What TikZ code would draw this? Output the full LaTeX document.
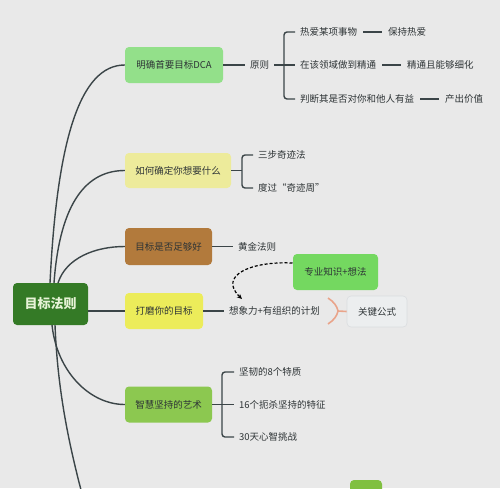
\documentclass[tikz,border=0pt]{standalone}
\usepackage{fontspec}
\setmainfont{Noto Sans CJK SC}
\usetikzlibrary{arrows.meta}
\definecolor{bg}{HTML}{E9E9E9}
\definecolor{lc}{HTML}{3B4548}
\definecolor{txt}{HTML}{2E3436}
\definecolor{rootc}{HTML}{347A26}
\definecolor{roott}{HTML}{E6F3D6}
\definecolor{c1}{HTML}{93E08A}
\definecolor{c2}{HTML}{EDEB9B}
\definecolor{c3}{HTML}{B27A3C}
\definecolor{c4}{HTML}{ECEC5A}
\definecolor{c5}{HTML}{8CC850}
\definecolor{c6}{HTML}{74D860}
\definecolor{c7}{HTML}{ECEEEF}
\definecolor{c7b}{HTML}{DADDDF}
\definecolor{brc}{HTML}{E9A48A}
\definecolor{c8}{HTML}{80C040}
\begin{document}
\begin{tikzpicture}[x=1pt,y=-1pt,
  box/.style={rounded corners=4pt, inner sep=0pt, align=center,
    font=\fontsize{9.5}{11}\selectfont, text=txt},
  lbl/.style={inner xsep=5pt, inner ysep=2pt, anchor=west,
    font=\fontsize{9.5}{11}\selectfont, text=txt},
  conn/.style={draw=lc, line width=1.4pt},
  brk/.style={draw=lc, line width=1.4pt, rounded corners=3pt}]
\clip (0,0) rectangle (500,488);
\fill[bg] (0,0) rectangle (500,488);

% main nodes
\node[box, fill=rootc, text=roott, font=\fontsize{13}{15}\selectfont\bfseries,
  minimum width=75pt, minimum height=42pt] (root) at (50.5,304) {目标法则};
\node[box, fill=c1, minimum width=98pt, minimum height=36pt] (ming) at (174,65) {明确首要目标DCA};
\node[box, fill=c2, minimum width=106pt, minimum height=35pt] (ru) at (178,170.5) {如何确定你想要什么};
\node[box, fill=c3, minimum width=87pt, minimum height=37pt] (mb) at (168.5,246.5) {目标是否足够好};
\node[box, fill=c4, minimum width=78pt, minimum height=36pt] (dm) at (164,311) {打磨你的目标};
\node[box, fill=c5, minimum width=87pt, minimum height=36pt] (zh) at (168.5,404.5) {智慧坚持的艺术};
\node[box, fill=c6, minimum width=85pt, minimum height=36pt] (zs) at (335.5,272) {专业知识+想法};
\node[box, fill=c7, draw=c7b, line width=0.6pt, minimum width=60pt, minimum height=31pt] (gj) at (377,311.5) {关键公式};
\node[box, fill=c8, minimum width=32pt, minimum height=30pt] (bot) at (366,495) {};

% root connectors
\coordinate (s1) at (50,283);
\coordinate (s2) at (54,283);
\coordinate (s3) at (58,283);
\coordinate (s4) at (52,325);
\coordinate (s5) at (55,325);
\coordinate (off) at (92,530);
\draw[conn] (s1) .. controls (57,140) and (80,65) .. (ming.west);
\draw[conn] (s2) .. controls (60,200) and (88,170.5) .. (ru.west);
\draw[conn] (s3) .. controls (66,258) and (95,246.5) .. (mb.west);
\draw[conn] (root.east |- dm.west) -- (dm.west);
\draw[conn] (s4) .. controls (57,372) and (90,404.5) .. (zh.west);
\draw[conn] (s5) .. controls (58,400) and (72,460) .. (off);

% branch 1
\node[lbl] (yz) at (245,65) {原则};
\draw[conn] (ming.east) -- (yz.west);
\node[lbl] (a1) at (295,32) {热爱某项事物};
\node[lbl] (a2) at (295,65) {在该领域做到精通};
\node[lbl] (a3) at (295,99) {判断其是否对你和他人有益};
\node[lbl] (b1) at (383,32) {保持热爱};
\node[lbl] (b2) at (402,65) {精通且能够细化};
\node[lbl] (b3) at (440,99) {产出价值};
\coordinate (k1) at (284,65);
\draw[conn] (yz.east) -- (k1);
\draw[brk] (a1.west) -- (284,32) -- (284,99) -- (a3.west);
\draw[conn] (k1) -- (a2.west);
\draw[conn] ([xshift=1pt]a1.east) -- ([xshift=-1pt]b1.west);
\draw[conn] ([xshift=1pt]a2.east) -- ([xshift=-1pt]b2.west);
\draw[conn] ([xshift=1pt]a3.east) -- ([xshift=-1pt]b3.west);

% branch 2
\node[lbl] (r1) at (253,155) {三步奇迹法};
\node[lbl] (r2) at (253,188) {度过“奇迹周”};
\coordinate (k2) at (242,170.5);
\draw[conn] (ru.east) -- (k2);
\draw[brk] (r1.west) -- (242,155) -- (242,188) -- (r2.west);

% branch 3
\node[lbl] (hj) at (233,246.5) {黄金法则};
\draw[conn] (mb.east) -- (hj.west);

% branch 4
\node[lbl] (xx) at (224,311) {想象力+有组织的计划};
\draw[conn] (dm.east) -- (xx.west);
\coordinate (dA) at (292.5,263);
\coordinate (dB) at (242,299);
\draw[line width=1.2pt, dash pattern=on 3pt off 2pt, -{Stealth[length=5pt,width=4.5pt]}]
  (dA) .. controls (250,261) and (218,276) .. (dB);
\coordinate (brT) at (328,298);
\coordinate (brM) at (338,311);
\coordinate (brB) at (328,324);
\draw[brc, line width=1.6pt] (brT) .. controls (334,302) and (337,306) .. (brM)
  .. controls (337,316) and (334,320) .. (brB);
\draw[brc, line width=1.6pt] (brM) -- (gj.west);

% branch 5
\node[lbl] (z1) at (234,372) {坚韧的8个特质};
\node[lbl] (z2) at (234,404.5) {16个扼杀坚持的特征};
\node[lbl] (z3) at (234,437) {30天心智挑战};
\coordinate (k5) at (222,404.5);
\draw[conn] (zh.east) -- (k5);
\draw[brk] (z1.west) -- (222,372) -- (222,437) -- (z3.west);
\draw[conn] (k5) -- (z2.west);
\end{tikzpicture}
\end{document}
